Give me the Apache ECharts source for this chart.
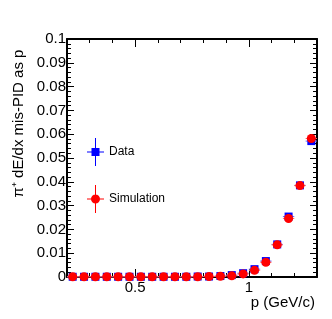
<!DOCTYPE html>
<html><head><meta charset="utf-8">
<script src="https://cdn.jsdelivr.net/npm/echarts@6/dist/echarts.min.js"></script>
<style>html,body{margin:0;padding:0;background:#fff}#c{width:332px;height:319px}</style>
</head><body><div id="c"></div>
<script>
// momentum bin centers (GeV/c)
const pValues = [0.225,0.275,0.325,0.375,0.425,0.475,0.525,0.575,0.625,0.675,0.725,0.775,0.825,0.875,0.925,0.975,1.025,1.075,1.125,1.175,1.225,1.275];
const binHalfWidth = [0.025,0.025,0.025,0.025,0.025,0.025,0.025,0.025,0.025,0.025,0.025,0.025,0.025,0.025,0.025,0.025,0.025,0.025,0.025,0.025,0.025,0.025];
const dataValues = [0.0001,0.0001,0.0001,0.0001,0.0001,0.0001,0.0001,0.0001,0.0001,0.0001,0.0001,0.0002,0.0002,0.0004,0.0008,0.0016,0.0033,0.0067,0.0137,0.0254,0.0385,0.0571];
const simValues  = [0.0001,0.0001,0.0001,0.0001,0.0001,0.0001,0.0001,0.0001,0.0001,0.0001,0.0001,0.0001,0.0002,0.0003,0.0005,0.0013,0.0028,0.0062,0.0135,0.0246,0.0384,0.0582];
const xMajorTicks = [0.5, 1];
const seriesNames = ['Data', 'Simulation'];
const xTitle = 'p (GeV/c)';
const yTitle = 'π⁺ dE/dx mis-PID as p';

const dataPts = pValues.map((p, i) => [p, dataValues[i], binHalfWidth[i]]);
const simPts = pValues.map((p, i) => [p, simValues[i], binHalfWidth[i]]);

function errRender(color) {
  return function (params, api) {
    const x = api.value(0), y = api.value(1), hw = api.value(2);
    const a = api.coord([x - hw, y]);
    const b = api.coord([x + hw, y]);
    return {
      type: 'line',
      shape: { x1: a[0], y1: a[1], x2: b[0], y2: b[1] },
      style: { stroke: color, lineWidth: 1 }
    };
  };
}

const squareIcon = 'path://M8,0L9,0L9,28L8,28ZM0,13.5L17,13.5L17,14.5L0,14.5ZM4.5,10L12.5,10L12.5,18L4.5,18Z';
const circleIcon = 'path://M8,0L9,0L9,28L8,28ZM0,13.5L17,13.5L17,14.5L0,14.5ZM4,14A4.5,4.5 0 1,1 13,14A4.5,4.5 0 1,1 4,14Z';

const FONT = 'Liberation Sans, Arial, sans-serif';
const lineStyle = { color: '#000', width: 2 };
const xRange = { min: 0.2, max: 1.3 };

const chart = echarts.init(document.getElementById('c'), null, { renderer: 'canvas' });
chart.setOption({
  animation: false,
  backgroundColor: '#fff',
  grid: { left: 67, right: 15, top: 39, bottom: 42, containLabel: false },
  legend: {
    orient: 'vertical', left: 87, top: 138, itemGap: 19, padding: 0,
    itemWidth: 17, itemHeight: 28,
    textStyle: { fontFamily: FONT, fontSize: 12, color: '#000' },
    data: [
      { name: seriesNames[0], icon: squareIcon, itemStyle: { color: '#0000ff' } },
      { name: seriesNames[1], icon: circleIcon, itemStyle: { color: '#ff0000' } }
    ]
  },
  xAxis: [
    { type: 'value', position: 'bottom', ...xRange,
      axisLine: { show: true, onZero: false, lineStyle },
      axisTick: { show: true, inside: true, length: 8, customValues: xMajorTicks, lineStyle: { color: '#000', width: 1 } },
      axisLabel: { show: true, customValues: xMajorTicks, fontFamily: FONT, fontSize: 15, color: '#000', margin: 3 },
      splitLine: { show: false },
      name: xTitle, nameLocation: 'end', nameGap: -2,
      nameTextStyle: { fontFamily: FONT, fontSize: 15, color: '#000', align: 'right', verticalAlign: 'top', padding: [18, 0, 0, 0] }
    },
    { type: 'value', position: 'bottom', ...xRange, interval: 0.1,
      axisLine: { show: false, onZero: false },
      axisTick: { show: true, inside: true, length: 4, lineStyle: { color: '#000', width: 1 } },
      axisLabel: { show: false }, splitLine: { show: false } },
    { type: 'value', position: 'top', ...xRange,
      axisLine: { show: true, onZero: false, lineStyle },
      axisTick: { show: true, inside: true, length: 8, customValues: xMajorTicks, lineStyle: { color: '#000', width: 1 } },
      axisLabel: { show: false }, splitLine: { show: false } },
    { type: 'value', position: 'top', ...xRange, interval: 0.1,
      axisLine: { show: false, onZero: false },
      axisTick: { show: true, inside: true, length: 4, lineStyle: { color: '#000', width: 1 } },
      axisLabel: { show: false }, splitLine: { show: false } }
  ],
  yAxis: [
    { type: 'value', position: 'left', min: 0, max: 0.1, interval: 0.01,
      axisLine: { show: true, onZero: false, lineStyle },
      axisTick: { show: true, inside: true, length: 7, lineStyle: { color: '#000', width: 1 } },
      minorTick: { show: true, splitNumber: 5, length: 4, lineStyle: { color: '#000', width: 1 } },
      axisLabel: { fontFamily: FONT, fontSize: 15, color: '#000', margin: 1 },
      splitLine: { show: false },
      name: yTitle, nameLocation: 'middle', nameGap: 38,
      nameTextStyle: { fontFamily: FONT, fontSize: 15, color: '#000', padding: [0, 0, 0, 69] }
    },
    { type: 'value', position: 'right', min: 0, max: 0.1, interval: 0.01,
      axisLine: { show: true, onZero: false, lineStyle },
      axisTick: { show: true, inside: true, length: 7, lineStyle: { color: '#000', width: 1 } },
      minorTick: { show: true, splitNumber: 5, length: 4, lineStyle: { color: '#000', width: 1 } },
      axisLabel: { show: false }, splitLine: { show: false } }
  ],
  series: [
    { name: seriesNames[0] + ' err', type: 'custom', xAxisIndex: 0, yAxisIndex: 0, renderItem: errRender('#6666ff'), data: dataPts, silent: true, z: 2 },
    { name: seriesNames[0], type: 'scatter', xAxisIndex: 0, yAxisIndex: 0, symbol: 'rect', symbolSize: 8, itemStyle: { color: '#0000ff', opacity: 1 }, data: dataPts, z: 3 },
    { name: seriesNames[1] + ' err', type: 'custom', xAxisIndex: 0, yAxisIndex: 0, renderItem: errRender('#ff6666'), data: simPts, silent: true, z: 4 },
    { name: seriesNames[1], type: 'scatter', xAxisIndex: 0, yAxisIndex: 0, symbol: 'circle', symbolSize: 9, itemStyle: { color: '#ff0000', opacity: 1 }, data: simPts, z: 5 }
  ]
});
</script></body></html>
